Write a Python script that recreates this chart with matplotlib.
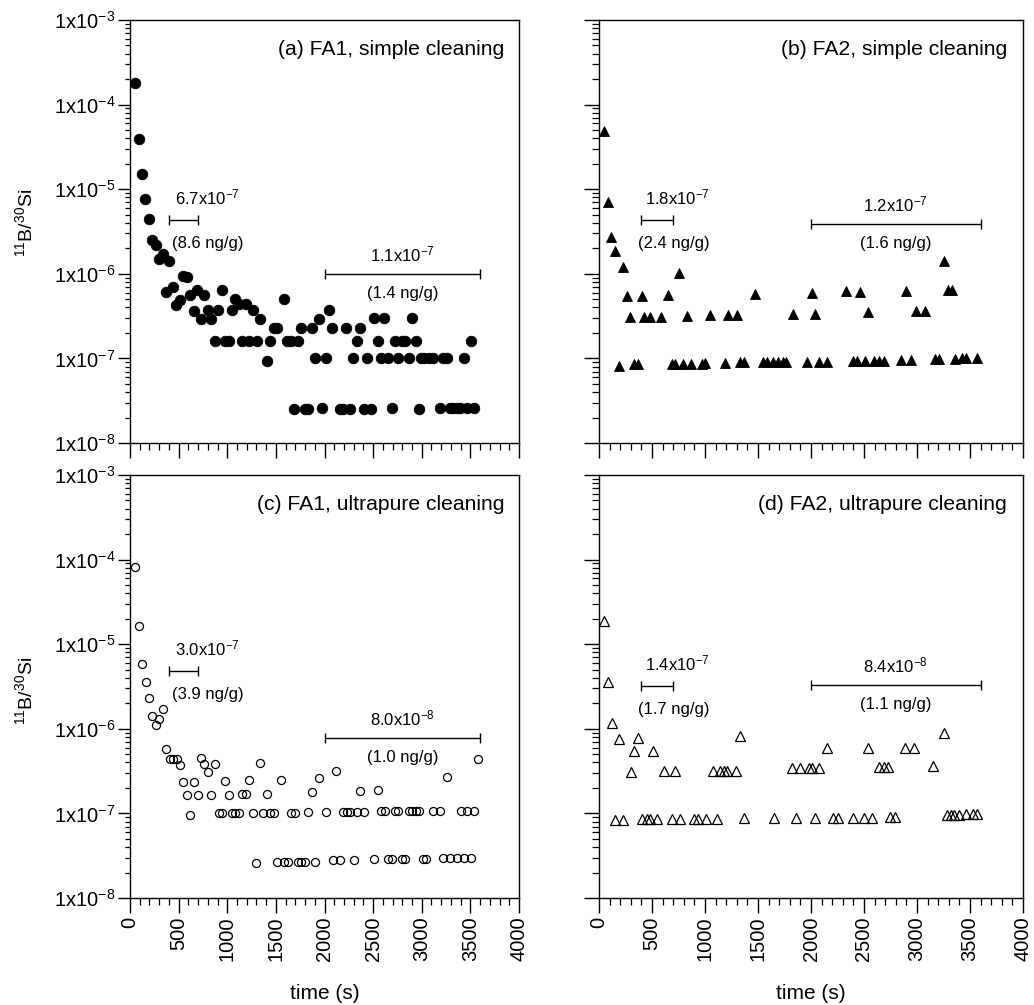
import matplotlib
matplotlib.use('Agg')
import matplotlib.pyplot as plt
import numpy as np
from matplotlib.ticker import LogLocator, MultipleLocator, FuncFormatter, NullFormatter

plt.rcParams['font.family'] = ['Liberation Sans', 'DejaVu Sans']
plt.rcParams['mathtext.fontset'] = 'custom'
plt.rcParams['mathtext.rm'] = 'Liberation Sans'
plt.rcParams['mathtext.it'] = 'Liberation Sans:italic'
plt.rcParams['mathtext.bf'] = 'Liberation Sans:bold'

# (a) FA1, simple cleaning
t_a = [51, 89, 123, 158, 195, 230, 264, 302, 339, 370, 405, 442, 476, 518, 548, 586,
       620, 655, 692, 727, 764, 802, 836, 874, 908, 943, 977, 1015, 1049, 1083, 1121,
       1155, 1193, 1227, 1265, 1303, 1337, 1405, 1443, 1477, 1515, 1584, 1618, 1656,
       1690, 1724, 1762, 1796, 1834, 1868, 1903, 1940, 1975, 2012, 2047, 2081, 2156,
       2190, 2225, 2262, 2297, 2331, 2365, 2403, 2437, 2475, 2509, 2547, 2581, 2616,
       2653, 2691, 2725, 2760, 2797, 2832, 2866, 2904, 2938, 2972, 2993, 3027, 3078,
       3113, 3185, 3219, 3257, 3291, 3325, 3360, 3397, 3431, 3466, 3503, 3538]
v_a = [1.78e-4, 3.9e-5, 1.5e-5, 7.7e-6, 4.5e-6, 2.5e-6, 2.2e-6, 1.5e-6, 1.7e-6, 6.1e-7,
       1.4e-6, 6.9e-7, 4.3e-7, 4.9e-7, 9.5e-7, 9.1e-7, 5.6e-7, 3.6e-7, 6.4e-7, 2.9e-7,
       5.6e-7, 3.7e-7, 2.9e-7, 1.6e-7, 3.7e-7, 6.4e-7, 1.6e-7, 1.6e-7, 3.7e-7, 5.1e-7,
       4.4e-7, 1.6e-7, 4.4e-7, 1.6e-7, 3.7e-7, 1.6e-7, 2.95e-7, 9.3e-8, 1.6e-7, 2.3e-7,
       2.3e-7, 5.0e-7, 1.6e-7, 1.6e-7, 2.5e-8, 1.6e-7, 2.3e-7, 2.5e-8, 2.5e-8, 2.3e-7,
       1.0e-7, 2.95e-7, 2.6e-8, 1.0e-7, 3.7e-7, 2.3e-7, 2.5e-8, 2.5e-8, 2.3e-7, 2.5e-8,
       1.0e-7, 1.6e-7, 2.3e-7, 2.5e-8, 1.0e-7, 2.5e-8, 3.0e-7, 1.6e-7, 1.0e-7, 3.0e-7,
       1.0e-7, 2.6e-8, 1.6e-7, 1.0e-7, 1.6e-7, 1.6e-7, 1.0e-7, 3.0e-7, 1.6e-7, 2.5e-8,
       1.0e-7, 1.0e-7, 1.0e-7, 1.0e-7, 2.6e-8, 1.0e-7, 1.0e-7, 2.6e-8, 2.6e-8, 2.6e-8,
       2.6e-8, 1.0e-7, 2.6e-8, 1.6e-7, 2.6e-8]

# (b) FA2, simple cleaning
t_b = [47, 82, 113, 151, 186, 223, 261, 296, 333, 368, 403, 428, 481, 582, 654, 692,
       717, 758, 796, 833, 868, 969, 1003, 1044, 1189, 1214, 1299, 1330, 1368, 1472,
       1550, 1588, 1645, 1692, 1739, 1764, 1830, 1966, 2010, 2035, 2073, 2154, 2327,
       2393, 2437, 2466, 2510, 2538, 2595, 2642, 2689, 2846, 2897, 2941, 2991, 3076,
       3170, 3204, 3252, 3289, 3330, 3362, 3422, 3463, 3570]
v_b = [4.9e-5, 7.0e-6, 2.75e-6, 1.88e-6, 8.2e-8, 1.21e-6, 5.4e-7, 3.1e-7, 8.5e-8, 8.5e-8,
       5.5e-7, 3.1e-7, 3.1e-7, 3.1e-7, 5.6e-7, 8.5e-8, 8.5e-8, 1.03e-6, 8.7e-8, 3.2e-7,
       8.7e-8, 8.7e-8, 8.9e-8, 3.26e-7, 8.9e-8, 3.26e-7, 3.26e-7, 9.0e-8, 9.0e-8, 5.8e-7,
       9.0e-8, 9.0e-8, 9.0e-8, 9.0e-8, 9.0e-8, 9.0e-8, 3.35e-7, 9.1e-8, 6.0e-7, 3.35e-7,
       9.1e-8, 9.1e-8, 6.2e-7, 9.3e-8, 9.3e-8, 6.1e-7, 9.3e-8, 3.5e-7, 9.4e-8, 9.4e-8,
       9.4e-8, 9.6e-8, 6.3e-7, 9.6e-8, 3.6e-7, 3.6e-7, 9.8e-8, 9.8e-8, 1.43e-6, 6.4e-7,
       6.4e-7, 9.8e-8, 1.0e-7, 1.0e-7, 1.0e-7]

# (c) FA1, ultrapure cleaning
t_c = [55, 89, 123, 161, 195, 230, 267, 302, 339, 374, 408, 442, 480, 514, 548, 586,
       620, 658, 696, 730, 764, 802, 836, 874, 912, 946, 980, 1015, 1046, 1083, 1121,
       1155, 1193, 1227, 1265, 1299, 1337, 1371, 1409, 1443, 1477, 1515, 1549, 1584,
       1621, 1656, 1693, 1728, 1762, 1796, 1834, 1868, 1903, 1940, 2012, 2084, 2115,
       2156, 2190, 2228, 2262, 2300, 2334, 2369, 2406, 2513, 2547, 2581, 2619, 2653,
       2691, 2725, 2760, 2797, 2832, 2866, 2904, 2938, 2975, 3010, 3044, 3116, 3188,
       3222, 3260, 3294, 3363, 3401, 3435, 3469, 3507, 3541, 3579]
v_c = [8.2e-5, 1.66e-5, 5.9e-6, 3.6e-6, 2.3e-6, 1.43e-6, 1.1e-6, 1.32e-6, 1.7e-6, 5.8e-7,
       4.4e-7, 4.4e-7, 4.4e-7, 3.7e-7, 2.35e-7, 1.66e-7, 9.6e-8, 2.35e-7, 1.66e-7, 4.5e-7,
       3.8e-7, 3.1e-7, 1.67e-7, 3.8e-7, 1.0e-7, 1.0e-7, 2.4e-7, 1.67e-7, 1.0e-7, 1.0e-7,
       1.0e-7, 1.7e-7, 1.7e-7, 2.45e-7, 1.0e-7, 2.6e-8, 3.9e-7, 1.0e-7, 1.7e-7, 1.0e-7,
       1.0e-7, 2.7e-8, 2.5e-7, 2.7e-8, 2.7e-8, 1.0e-7, 1.0e-7, 2.7e-8, 2.7e-8, 2.7e-8,
       1.03e-7, 1.8e-7, 2.7e-8, 2.6e-7, 1.04e-7, 2.8e-8, 3.2e-7, 2.8e-8, 1.04e-7, 1.04e-7,
       1.05e-7, 2.8e-8, 1.05e-7, 1.85e-7, 1.05e-7, 2.9e-8, 1.87e-7, 1.07e-7, 1.07e-7, 2.9e-8,
       2.9e-8, 1.07e-7, 1.07e-7, 2.9e-8, 2.9e-8, 1.07e-7, 1.07e-7, 1.07e-7, 1.07e-7, 2.9e-8,
       2.9e-8, 1.08e-7, 1.08e-7, 3.0e-8, 2.7e-7, 3.0e-8, 3.0e-8, 1.08e-7, 3.0e-8, 1.08e-7,
       3.0e-8, 1.08e-7, 4.4e-7]

# (d) FA2, ultrapure cleaning
t_d = [47, 85, 120, 189, 368, 330, 513, 299, 613, 720, 151, 226, 403, 450, 481, 547,
       689, 764, 896, 937, 1013, 1116, 1079, 1142, 1179, 1211, 1289, 1327, 1368, 1651,
       1824, 1896, 1978, 2010, 2079, 1859, 2038, 2148, 2208, 2258, 2393, 2500, 2541,
       2576, 2645, 2689, 2724, 2746, 2796, 2890, 2969, 3148, 3252, 3280, 3318, 3353,
       3393, 3463, 3532, 3570]
v_d = [1.87e-5, 3.6e-6, 1.17e-6, 7.6e-7, 7.7e-7, 5.4e-7, 5.5e-7, 3.1e-7, 3.2e-7, 3.2e-7,
       8.3e-8, 8.4e-8, 8.5e-8, 8.5e-8, 8.5e-8, 8.5e-8, 8.6e-8, 8.6e-8, 8.7e-8, 8.7e-8,
       8.7e-8, 8.7e-8, 3.2e-7, 3.2e-7, 3.2e-7, 3.2e-7, 3.2e-7, 8.2e-7, 8.8e-8, 8.8e-8,
       3.4e-7, 3.4e-7, 3.4e-7, 3.4e-7, 3.4e-7, 8.8e-8, 8.8e-8, 5.9e-7, 8.9e-8, 8.9e-8,
       8.9e-8, 8.9e-8, 5.9e-7, 8.9e-8, 3.5e-7, 3.5e-7, 3.5e-7, 9.0e-8, 9.0e-8, 6.0e-7,
       6.0e-7, 3.6e-7, 8.8e-7, 9.7e-8, 9.7e-8, 9.7e-8, 9.7e-8, 9.9e-8, 9.9e-8, 9.9e-8]

titles = ['(a) FA1, simple cleaning', '(b) FA2, simple cleaning',
          '(c) FA1, ultrapure cleaning', '(d) FA2, ultrapure cleaning']

# averaging windows (s) and mean ratios / concentrations
early_window = (400, 700)
late_window = (2000, 3600)
early_mean = ['6.7x10$^{-7}$', '1.8x10$^{-7}$', '3.0x10$^{-7}$', '1.4x10$^{-7}$']
early_conc = ['(8.6 ng/g)', '(2.4 ng/g)', '(3.9 ng/g)', '(1.7 ng/g)']
late_mean = ['1.1x10$^{-7}$', '1.2x10$^{-7}$', '8.0x10$^{-8}$', '8.4x10$^{-8}$']
late_conc = ['(1.4 ng/g)', '(1.6 ng/g)', '(1.0 ng/g)', '(1.1 ng/g)']
# heights where the bars sit
early_y = [4.3e-6, 4.3e-6, 4.8e-6, 3.2e-6]
late_y = [1.0e-6, 3.9e-6, 7.8e-7, 3.3e-6]

fig = plt.figure(figsize=(10.34, 10.05), dpi=100)
W, H = 1034, 1005
boxes = [(130, 20, 389, 423), (599, 20, 424, 423),
         (130, 475, 389, 423), (599, 475, 424, 423)]
axes = [fig.add_axes([x / W, 1 - (y + h) / H, w / W, h / H]) for x, y, w, h in boxes]

series = [(t_a, v_a, 'o', True, 7.6), (t_b, v_b, '^', True, 7.0),
          (t_c, v_c, 'o', False, 5.8), (t_d, v_d, '^', False, 6.6)]

fmt = FuncFormatter(lambda v, p: r'1x10$^{%d}$' % int(round(np.log10(v))))

for i, ax in enumerate(axes):
    t, v, mk, filled, ms = series[i]
    ax.plot(t, v, linestyle='none', marker=mk, markersize=ms,
            markerfacecolor='black' if filled else 'none',
            markeredgecolor='black', markeredgewidth=0.6 if filled else 0.9)
    ax.set_yscale('log')
    ax.set_xlim(0, 4000)
    ax.set_ylim(1e-8, 1e-3)
    for s in ax.spines.values():
        s.set_linewidth(1.0)

    ax.xaxis.set_major_locator(MultipleLocator(500))
    ax.xaxis.set_minor_locator(MultipleLocator(100))
    ax.yaxis.set_major_locator(LogLocator(base=10, numticks=10))
    ax.yaxis.set_minor_locator(LogLocator(base=10, subs=np.arange(2, 10), numticks=20))
    ax.yaxis.set_major_formatter(fmt)
    ax.yaxis.set_minor_formatter(NullFormatter())

    right = i % 2 == 1
    ax.tick_params(axis='x', which='major', direction='out', length=10.5, width=1,
                   labelsize=14.5, labelrotation=90, pad=3)
    ax.tick_params(axis='x', which='minor', direction='out', length=5, width=0.9)
    ax.tick_params(axis='y', which='major', direction='out',
                   length=11 if right else 8.5, width=1, labelsize=14.5, pad=2)
    ax.tick_params(axis='y', which='minor', direction='out',
                   length=5 if right else 3.6, width=0.9)
    if i < 2:
        ax.tick_params(labelbottom=False)
    else:
        ax.set_xlabel('time (s)', fontsize=15, labelpad=16)
    if right:
        ax.tick_params(labelleft=False)

    ax.text(0.962, 0.93, titles[i], transform=ax.transAxes, ha='right', va='center',
            fontsize=15.2)

    # averaging bars with labels
    for (x0, x1), y, top, bot, left in [
            (early_window, early_y[i], early_mean[i], early_conc[i], True),
            (late_window, late_y[i], late_mean[i], late_conc[i], False)]:
        ax.errorbar((x0 + x1) / 2, y, xerr=(x1 - x0) / 2, fmt='none', ecolor='black',
                    elinewidth=1, capsize=3.6, capthick=1)
        if left:
            ax.text(x0 + (60 if not right else 30), y * 1.4, top, ha='left', va='bottom',
                    fontsize=12)
            ax.text(x0 + (35 if not right else -30), y / 1.55, bot, ha='left', va='top',
                    fontsize=12)
        else:
            ax.text((x0 + x1) / 2, y * 1.3, top, ha='center', va='bottom', fontsize=12)
            ax.text((x0 + x1) / 2, y / 1.4, bot, ha='center', va='top', fontsize=12)

ylab = r'$^{11}$B/$^{30}$Si'
fig.text(0.024, 0.778, ylab, rotation=90, ha='center', va='center', fontsize=14)
fig.text(0.024, 0.313, ylab, rotation=90, ha='center', va='center', fontsize=14)

fig.savefig('out.png', dpi=100)
